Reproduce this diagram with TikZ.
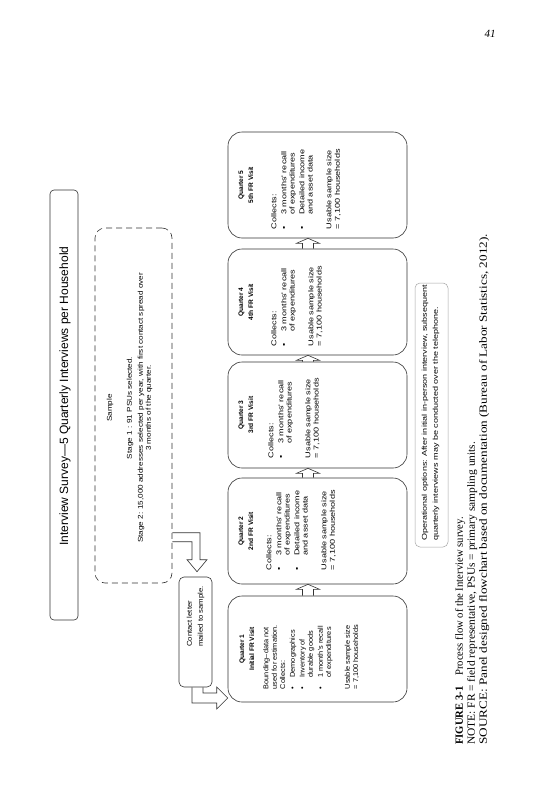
\documentclass[tikz,border=0pt]{standalone}
\usepackage{fontspec}
\setmainfont{Liberation Serif}
\newfontfamily\dsans{Liberation Sans}
\usetikzlibrary{calc}

% bullet and hanging indent for the lists inside the quarter boxes
\newcommand\bl{\makebox[11pt][l]{\textbullet}}
\newcommand\ind{\hspace*{11pt}}

% hollow block arrow from the lower box #1 up to the box #2 above it
\newcommand\uparr[2]{%
  \draw[line] ($(#1.north)+(-15,0)$) -- ($(#2.south)+(-15,5)$)
    -- ($(#2.south)+(-21,5)$) -- ($(#2.south)+(-9.5,0)$)
    -- ($(#2.south)+(2,5)$) -- ($(#2.south)+(-4,5)$)
    -- ($(#1.north)+(-4,0)$);}

\begin{document}
\begin{tikzpicture}[x=1pt,y=-1pt,
  line/.style={draw=black!80, line width=0.6pt},
  vt/.style={rotate=90, inner sep=0pt, xscale=#1},
  vt/.default=1,
  qbox/.style={line, rounded corners=14pt, minimum width=179pt,
    minimum height=106pt, inner sep=0pt},
  qtitle/.style={vt, font=\dsans\bfseries\fontsize{6.6}{10}\selectfont,
    align=center, anchor=north},
  qbody/.style={vt=#1, font=\dsans\fontsize{7}{8.3}\selectfont,
    align=left, anchor=north west},
  small/.style={vt=#1, font=\dsans\fontsize{7}{11}\selectfont,
    align=left, anchor=north west}
]
\fill[white] (0,0) rectangle (550,800);
\useasboundingbox (0,0) rectangle (550,800);

% page number
\node[font=\itshape\fontsize{11}{13}\selectfont, inner sep=0pt] (pageno) at (490,34) {41};

% title banner
\node[line, rounded corners=4pt, minimum width=28pt, minimum height=430pt] (titlebox) at (64,405) {};
\node[vt, font=\dsans\fontsize{12}{14}\selectfont] (title) at (65,396)
  {Interview Survey—5 Quarterly Interviews per Household};

% sample description
\node[line, dash pattern=on 6pt off 4pt, rounded corners=10pt, minimum width=77pt,
  minimum height=355pt] (sample) at (133.5,405.5) {};
\node[vt=1.16, font=\dsans\fontsize{7}{8}\selectfont, align=center, anchor=north]
  (sampletext) at (106.5,408)
  {Sample\\[12pt]Stage 1 : 91 PSUs selected.\\[3pt]Stage 2: 15,000 addresses selected per year, with first contact spread over\\3 months of the quarter.};

% contact letter
\node[line, rounded corners=5pt, minimum width=33pt, minimum height=110pt] (contact) at (195.5,632) {};
\node[small=1.1] (contacttext) at (186.5,647) {Contact letter\\mailed to sample.};

% quarterly visits
\node[qbox] (q1) at (317.5,649) {};
\node[qbox] (q2) at (317.5,531) {};
\node[qbox] (q3) at (317.5,415) {};
\node[qbox] (q4) at (317.5,302) {};
\node[qbox] (q5) at (317.5,185) {};

\node[qtitle] (q1t) at ($(q1.west)+(11.5,0)$) {Quarter 1\\Initial FR Visit};
\node[qtitle] (q2t) at ($(q2.west)+(10.5,0)$) {Quarter 2\\2nd FR Visit};
\node[qtitle] (q3t) at ($(q3.west)+(10.5,0)$) {Quarter 3\\3rd FR Visit};
\node[qtitle] (q4t) at ($(q4.west)+(10.5,0)$) {Quarter 4\\4th FR Visit};
\node[qtitle] (q5t) at ($(q5.west)+(10.5,0)$) {Quarter 5\\5th FR Visit};

\node[qbody=1.05] (q1b) at ($(q1.south west)+(35.5,-13)$)
  {Bounding–data not\\used for estimation.\\Collects:\\[1.5pt]\bl Demographics\\[1.5pt]\bl Inventory of\\\ind durable goods\\[1.5pt]\bl 1 month's recall\\\ind of expenditures\\[10.5pt]Usable sample size\\= 7,100 households};
\node[qbody=1.3] (q2b) at ($(q2.south west)+(38.5,-14)$)
  {Collects:\\[1.5pt]\bl 3 months' recall\\\ind of expenditures\\[1.5pt]\bl Detailed income\\\ind and asset data\\[10.5pt]Usable sample size\\= 7,100 households};
\node[qbody=1.3] (q3b) at ($(q3.south west)+(40.5,-10)$)
  {Collects:\\[1.5pt]\bl 3 months' recall\\\ind of expenditures\\[10.5pt]Usable sample size\\= 7,100 households};
\node[qbody=1.3] (q4b) at ($(q4.south west)+(43.5,-9)$)
  {Collects:\\[1.5pt]\bl 3 months' recall\\\ind of expenditures\\[10.5pt]Usable sample size\\= 7,100 households};
\node[qbody=1.3] (q5b) at ($(q5.south west)+(43.5,-9)$)
  {Collects:\\[1.5pt]\bl 3 months' recall\\\ind of expenditures\\[1.5pt]\bl Detailed income\\\ind and asset data\\[10.5pt]Usable sample size\\= 7,100 households};

% operational note
\node[draw=black!35, line width=0.5pt, rounded corners=5pt, minimum width=33pt,
  minimum height=264pt] (ops) at (431.5,415) {};
\node[small=1.29] (opstext) at (421.5,541)
  {Operational options: After initial in-person interview, subsequent\\quarterly interviews may be conducted over the telephone.};

% block arrows between the visits
\uparr{q1}{q2}
\uparr{q2}{q3}
\uparr{q3}{q4}
\uparr{q4}{q5}

% elbow arrow: sample -> contact letter
\coordinate (t1) at ($(contact.north)+(1.5,-5)$);
\coordinate (e1) at ($(t1)+(0,-39)$);
\coordinate (e2) at ($(t1)+(0,-30)$);
\draw[line] (e1 -| sample.east) -| ($(t1)+(3,-12)$) -- ($(t1)+(10,-12)$) -- (t1)
  -- ($(t1)+(-10,-12)$) -- ($(t1)+(-5,-12)$) |- (e2 -| sample.east);

% elbow arrow: contact letter -> first visit
\coordinate (t2) at ($(q1.west)+(0,49)$);
\draw[line] ($(contact.south)+(7.5,0)$) |- ($(t2)+(-11,-5)$) -- ($(t2)+(-11,-11)$) -- (t2)
  -- ($(t2)+(-11,11)$) -- ($(t2)+(-11,5)$) -| ($(contact.south)+(-3.5,0)$);

% caption
\node[vt, font=\fontsize{11}{12}\selectfont, align=left, anchor=north west]
  (caption) at (455,745)
  {\scalebox{0.97}[1]{\textbf{FIGURE 3-1}\quad Process flow of the Interview survey.}\\
   \scalebox{1.04}[1]{NOTE: FR = field representative, PSUs = primary sampling units.}\\
   \scalebox{1.2}[1]{SOURCE: Panel designed flowchart based on documentation (Bureau of Labor Statistics, 2012).}};
\end{tikzpicture}
\end{document}
